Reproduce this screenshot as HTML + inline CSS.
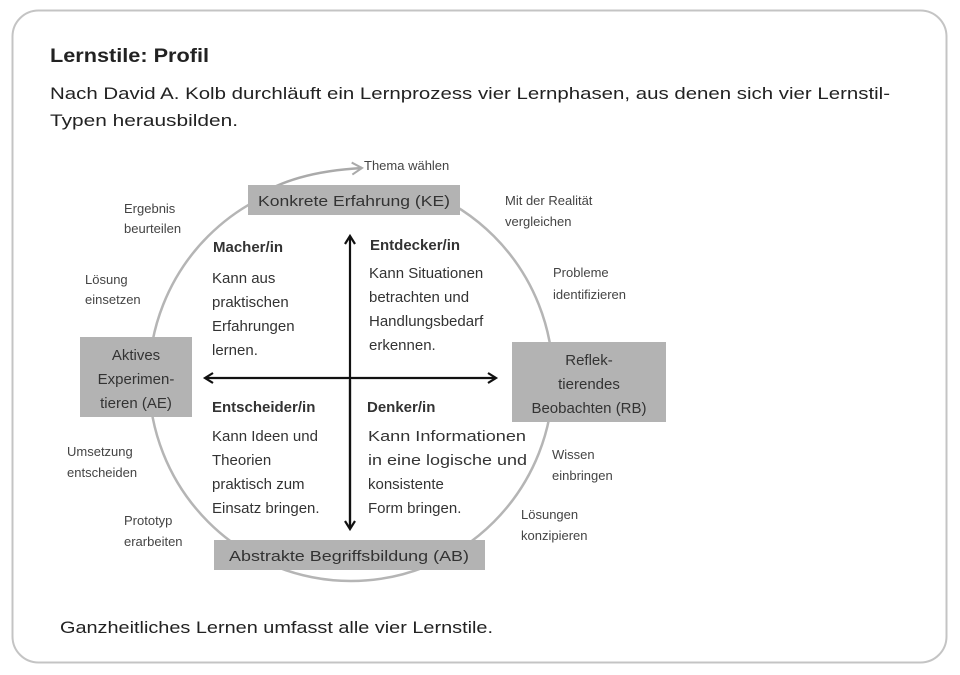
<!DOCTYPE html>
<html><head><meta charset="utf-8"><style>
html,body{margin:0;padding:0;background:#fff;}
svg{display:block;font-family:"Liberation Sans",sans-serif;}
</style></head><body>
<svg width="960" height="675" viewBox="0 0 960 675" xmlns="http://www.w3.org/2000/svg">
<defs>
<marker id="ah" markerWidth="12" markerHeight="12" refX="9" refY="6" orient="auto" markerUnits="userSpaceOnUse"><path d="M1,1 L9,6 L1,11" fill="none" stroke="#111" stroke-width="2.2"/></marker>
<marker id="ag" markerWidth="14" markerHeight="14" refX="11" refY="7" orient="auto" markerUnits="userSpaceOnUse"><path d="M1,1 L11,7 L1,13" fill="none" stroke="#aaa" stroke-width="2"/></marker>
</defs>
<rect x="12.5" y="10.5" width="934" height="652" rx="26" fill="#fff" stroke="#c4c4c4" stroke-width="2"/>
<text x="50" y="62" font-size="19" font-weight="bold" fill="#222" textLength="159" lengthAdjust="spacingAndGlyphs">Lernstile: Profil</text>
<text x="50" y="99" font-size="17" fill="#222" textLength="840" lengthAdjust="spacingAndGlyphs">Nach David A. Kolb durchläuft ein Lernprozess vier Lernphasen, aus denen sich vier Lernstil-</text>
<text x="50" y="126" font-size="17" fill="#222" textLength="188" lengthAdjust="spacingAndGlyphs">Typen herausbilden.</text>

<circle cx="351" cy="379" r="202" fill="none" stroke="#b5b5b5" stroke-width="2.5"/>
<rect x="250" y="160" width="212" height="26" fill="#fff"/>
<path d="M252,200 Q290,172 362,168" fill="none" stroke="#aaa" stroke-width="2.5" marker-end="url(#ag)"/>

<rect x="248" y="185" width="212" height="30" fill="#b3b3b3"/>
<text x="354" y="206" font-size="15" fill="#333" text-anchor="middle" textLength="192" lengthAdjust="spacingAndGlyphs">Konkrete Erfahrung (KE)</text>
<rect x="80" y="337" width="112" height="80" fill="#b3b3b3"/>
<g font-size="15" fill="#333" text-anchor="middle">
<text x="136" y="360">Aktives</text>
<text x="136" y="384">Experimen-</text>
<text x="136" y="408">tieren (AE)</text>
</g>
<rect x="512" y="342" width="154" height="80" fill="#b3b3b3"/>
<g font-size="15" fill="#333" text-anchor="middle">
<text x="589" y="365">Reflek-</text>
<text x="589" y="389">tierendes</text>
<text x="589" y="413">Beobachten (RB)</text>
</g>
<rect x="214" y="540" width="271" height="30" fill="#b3b3b3"/>
<text x="349" y="561" font-size="15" fill="#333" text-anchor="middle" textLength="240" lengthAdjust="spacingAndGlyphs">Abstrakte Begriffsbildung (AB)</text>

<line x1="350" y1="525" x2="350" y2="236" stroke="#111" stroke-width="2.2" marker-end="url(#ah)"/>
<line x1="350" y1="380" x2="350" y2="529" stroke="#111" stroke-width="2.2" marker-end="url(#ah)"/>
<line x1="350" y1="378" x2="205" y2="378" stroke="#111" stroke-width="2.2" marker-end="url(#ah)"/>
<line x1="350" y1="378" x2="496" y2="378" stroke="#111" stroke-width="2.2" marker-end="url(#ah)"/>

<g font-size="15" fill="#333">
<text x="213" y="252" font-weight="bold">Macher/in</text>
<text x="212" y="283">Kann aus</text>
<text x="212" y="307">praktischen</text>
<text x="212" y="331">Erfahrungen</text>
<text x="212" y="355">lernen.</text>
<text x="370" y="250" font-weight="bold">Entdecker/in</text>
<text x="369" y="278">Kann Situationen</text>
<text x="369" y="302">betrachten und</text>
<text x="369" y="326">Handlungsbedarf</text>
<text x="369" y="350">erkennen.</text>
<text x="212" y="412" font-weight="bold">Entscheider/in</text>
<text x="212" y="441">Kann Ideen und</text>
<text x="212" y="465">Theorien</text>
<text x="212" y="489">praktisch zum</text>
<text x="212" y="513">Einsatz bringen.</text>
<text x="367" y="412" font-weight="bold">Denker/in</text>
<text x="368" y="441" textLength="158" lengthAdjust="spacingAndGlyphs">Kann Informationen</text>
<text x="368" y="465" textLength="159" lengthAdjust="spacingAndGlyphs">in eine logische und</text>
<text x="368" y="489">konsistente</text>
<text x="368" y="513">Form bringen.</text>
</g>

<g font-size="13" fill="#444">
<text x="364" y="170">Thema wählen</text>
<text x="124" y="213">Ergebnis</text>
<text x="124" y="233">beurteilen</text>
<text x="85" y="284">Lösung</text>
<text x="85" y="304">einsetzen</text>
<text x="505" y="205">Mit der Realität</text>
<text x="505" y="226">vergleichen</text>
<text x="553" y="277">Probleme</text>
<text x="553" y="299">identifizieren</text>
<text x="67" y="456">Umsetzung</text>
<text x="67" y="477">entscheiden</text>
<text x="552" y="459">Wissen</text>
<text x="552" y="480">einbringen</text>
<text x="124" y="525">Prototyp</text>
<text x="124" y="546">erarbeiten</text>
<text x="521" y="519">Lösungen</text>
<text x="521" y="540">konzipieren</text>
</g>

<text x="60" y="633" font-size="17" fill="#222" textLength="433" lengthAdjust="spacingAndGlyphs">Ganzheitliches Lernen umfasst alle vier Lernstile.</text>
</svg>
</body></html>
